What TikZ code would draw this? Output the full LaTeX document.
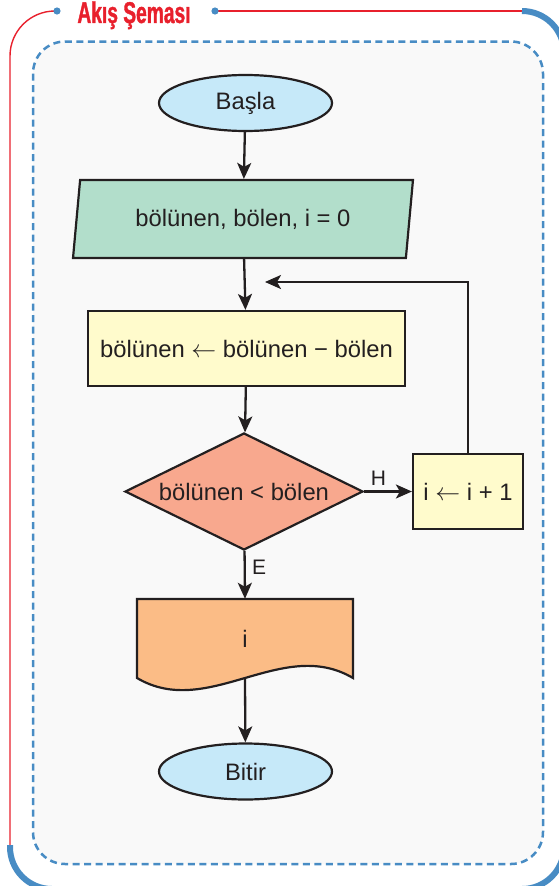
\documentclass[tikz,border=0pt]{standalone}
\usepackage{fontspec}
\setmainfont{Liberation Sans}
\newfontfamily\titlefont[FakeStretch=0.64, FakeBold=1.2]{Liberation Sans}
\usetikzlibrary{shapes.geometric, arrows.meta}

\definecolor{frameblue}{RGB}{72,140,196}
\definecolor{framered}{RGB}{232,32,44}
\definecolor{ink}{RGB}{35,31,32}
\definecolor{termfill}{RGB}{198,233,249}
\definecolor{iofill}{RGB}{178,222,203}
\definecolor{procfill}{RGB}{255,251,204}
\definecolor{testfill}{RGB}{248,168,142}
\definecolor{docfill}{RGB}{251,188,134}
\definecolor{panelfill}{RGB}{249,249,249}

\begin{document}
\begin{tikzpicture}[x=1pt, y=-1pt,
    every node/.style={font=\fontsize{23.8}{28}\selectfont, text=ink},
    box/.style={draw=ink, line width=2.2pt, inner sep=0pt, text centered},
    term/.style={box, ellipse, minimum width=173pt, minimum height=56pt, fill=termfill},
    proc/.style={box, rectangle, minimum height=75pt, fill=procfill},
    arr/.style={-{Stealth[length=16pt, width=14pt, inset=4pt]}, line width=2.3pt, draw=ink},
    lbl/.style={font=\fontsize{21}{24}\selectfont}
]
\useasboundingbox (0,0) rectangle (559,886);

% Frame and panel
\draw[frameblue, line width=2.5pt, dash pattern=on 7pt off 4.5pt, fill=panelfill, rounded corners=32pt] (33,41.5) rectangle (543,864);
\draw[framered, line width=1.4pt, rounded corners=45pt] (57,11) -- (10,11) -- (10,846);
\draw[framered, line width=1.4pt] (215,11) -- (523,11);
\draw[frameblue, line width=6pt, rounded corners=42pt] (522,11) -- (564,11) -- (564,889) -- (10,889) -- (10,845);
\fill[frameblue] (57,11) circle (3.6pt) (215,11) circle (3.6pt);
\node[font={\titlefont\bfseries\fontsize{30}{32}\selectfont}, text=framered, anchor=base, inner sep=0pt] (title) at (134,23) {Akış Şeması};

% Start / input
\node[term] (start) at (245.5,103) {Başla};
\node[box, trapezium, trapezium left angle=77, trapezium right angle=103, trapezium stretches=true,
      minimum width=340pt, minimum height=78pt, fill=iofill] (input) at (243,219) {bölünen, bölen, i = 0\hspace{16pt}};

% Loop body
\node[proc, minimum width=317pt] (update) at (246.5,348.5) {bölünen $\leftarrow$ bölünen − bölen};
\node[box, diamond, aspect=2.03, minimum width=238pt, minimum height=117pt, fill=testfill] (check) at (244,491.5) {bölünen < bölen};
\node[proc, minimum width=110pt] (incr) at (468,491.5) {i $\leftarrow$ i + 1};
\coordinate (loopin) at (265,282);

% Output
\filldraw[draw=ink, fill=docfill, line width=2.2pt] (137,599) -- (353,599) -- (353,678)
    .. controls (282,636) and (208,720) .. (137,678) -- cycle;
\node[inner sep=0pt, minimum width=216pt, minimum height=79pt] (output) at (245,638.5) {i};

% End
\node[term] (stop) at (245.5,771.5) {Bitir};

% Arrows
\draw[arr] (start) -- (input);
\draw[arr] (input) -- (update);
\draw[arr] (update) -- (check);
\draw[arr] (check) -- (incr) node[lbl, pos=0.3, above=2pt] {H};
\draw[arr] (incr.north) |- (loopin);
\draw[arr] (check) -- (output.north) node[lbl, pos=0.35, right=3pt] {E};
\draw[arr] (output.south) -- (stop);
\end{tikzpicture}
\end{document}
